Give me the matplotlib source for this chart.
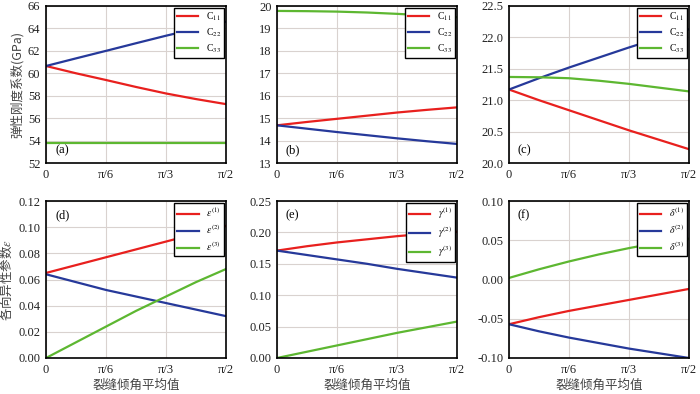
import numpy as np
import matplotlib.pyplot as plt

plt.rcParams['font.family'] = ['Liberation Serif', 'Noto Sans CJK SC']
plt.rcParams['mathtext.fontset'] = 'stix'

# 裂缝倾角 (0 .. pi/2)
theta = np.array([0, 1, 2, 3, 4, 5, 6]) * np.pi / 12

# (a)
a_c11 = [60.65, 60.0, 59.4, 58.78, 58.2, 57.7, 57.25]
a_c22 = [60.65, 61.33, 62.0, 62.68, 63.35, 63.98, 64.6]
a_c33 = [53.75, 53.75, 53.75, 53.75, 53.75, 53.75, 53.75]
# (b)
b_c11 = [14.68, 14.83, 14.97, 15.11, 15.25, 15.37, 15.48]
b_c22 = [14.68, 14.53, 14.38, 14.24, 14.1, 13.97, 13.85]
b_c33 = [19.78, 19.77, 19.75, 19.71, 19.65, 19.58, 19.5]
# (c)
c_c11 = [21.17, 21.0, 20.84, 20.68, 20.52, 20.37, 20.22]
c_c22 = [21.17, 21.35, 21.52, 21.68, 21.84, 21.99, 22.13]
c_c33 = [21.37, 21.365, 21.35, 21.31, 21.26, 21.2, 21.14]
# (d)
d_e1 = [0.065, 0.071, 0.077, 0.083, 0.089, 0.095, 0.101]
d_e2 = [0.064, 0.058, 0.052, 0.047, 0.042, 0.037, 0.032]
d_e3 = [0.0, 0.012, 0.024, 0.036, 0.047, 0.058, 0.068]
# (e)
e_g1 = [0.171, 0.178, 0.184, 0.189, 0.194, 0.198, 0.201]
e_g2 = [0.171, 0.164, 0.157, 0.15, 0.142, 0.135, 0.128]
e_g3 = [0.0, 0.01, 0.02, 0.03, 0.04, 0.049, 0.058]
# (f)
f_d1 = [-0.057, -0.048, -0.040, -0.033, -0.026, -0.019, -0.012]
f_d2 = [-0.057, -0.066, -0.074, -0.081, -0.088, -0.094, -0.100]
f_d3 = [0.002, 0.013, 0.023, 0.032, 0.040, 0.047, 0.052]

xtick_labels = ['0', 'π/6', 'π/3', 'π/2']

colors = ['#e8201e', '#26399a', '#5db731']

panels = [
    (a_c11, a_c22, a_c33, ['C$_{11}$', 'C$_{22}$', 'C$_{33}$'], (52, 66), np.arange(52, 67, 2), '%d', '(a)', 'low'),
    (b_c11, b_c22, b_c33, ['C$_{11}$', 'C$_{22}$', 'C$_{33}$'], (13, 20), np.arange(13, 21, 1), '%d', '(b)', 'low'),
    (c_c11, c_c22, c_c33, ['C$_{11}$', 'C$_{22}$', 'C$_{33}$'], (20, 22.5), np.arange(20, 22.6, 0.5), '%.1f', '(c)', 'low'),
    (d_e1, d_e2, d_e3, [r'$\varepsilon^{(1)}$', r'$\varepsilon^{(2)}$', r'$\varepsilon^{(3)}$'], (0, 0.12), np.arange(0, 0.121, 0.02), '%.2f', '(d)', 'high'),
    (e_g1, e_g2, e_g3, [r'$\gamma^{(1)}$', r'$\gamma^{(2)}$', r'$\gamma^{(3)}$'], (0, 0.25), np.arange(0, 0.251, 0.05), '%.2f', '(e)', 'high'),
    (f_d1, f_d2, f_d3, [r'$\delta^{(1)}$', r'$\delta^{(2)}$', r'$\delta^{(3)}$'], (-0.1, 0.1), np.arange(-0.1, 0.101, 0.05), '%.2f', '(f)', 'high'),
]

fig = plt.figure(figsize=(7, 3.94), dpi=100)
lefts = [46 / 700, 277 / 700, 509 / 700]
w = 180 / 700
bottoms = [1 - 163 / 394, 1 - 358 / 394]
h = 157 / 394

cjk = ['Noto Sans CJK SC', 'DejaVu Sans']

axes = []
for i, (y1, y2, y3, labels, ylim, yticks, fmt, tag, tagpos) in enumerate(panels):
    ax = fig.add_axes([lefts[i % 3], bottoms[i // 3], w, h])
    for y, c, lab in zip([y1, y2, y3], colors, labels):
        ax.plot(theta, y, color=c, lw=1.6, label=lab)
    ax.set_xlim(0, np.pi / 2)
    ax.set_ylim(*ylim)
    ax.set_xticks(np.arange(4) * np.pi / 6)
    ax.set_xticklabels(xtick_labels)
    ax.set_yticks(yticks)
    ax.set_yticklabels([fmt % v for v in yticks])
    ax.grid(True, color='#d9d2cf', lw=0.8)
    ax.tick_params(direction='in', length=0, labelsize=9, colors='#222222', pad=4)
    for s in ax.spines.values():
        s.set_linewidth(1.2)
    leg = ax.legend(loc='upper right', fontsize=7, frameon=True, fancybox=False,
                    edgecolor='black', framealpha=1, handlelength=2.2,
                    borderpad=0.3, labelspacing=0.35, borderaxespad=0.2)
    leg.get_frame().set_linewidth(1.0)
    if tagpos == 'low':
        ax.text(0.05, 0.04, tag, transform=ax.transAxes, fontsize=9, va='bottom')
    else:
        ax.text(0.05, 0.95, tag, transform=ax.transAxes, fontsize=9, va='top')
    if i // 3 == 1:
        ax.set_xlabel('裂缝倾角平均值', fontsize=9, color='#444444',
                      family=cjk, labelpad=2)
    axes.append(ax)

axes[0].set_ylabel('弹性刚度系数(GPa)', fontsize=9, color='#444444',
                   family=cjk, labelpad=3)
axes[3].set_ylabel(r'各向异性参数$\varepsilon$', fontsize=9, color='#444444',
                   family=cjk, labelpad=3)

fig.savefig('out.png', dpi=100)
